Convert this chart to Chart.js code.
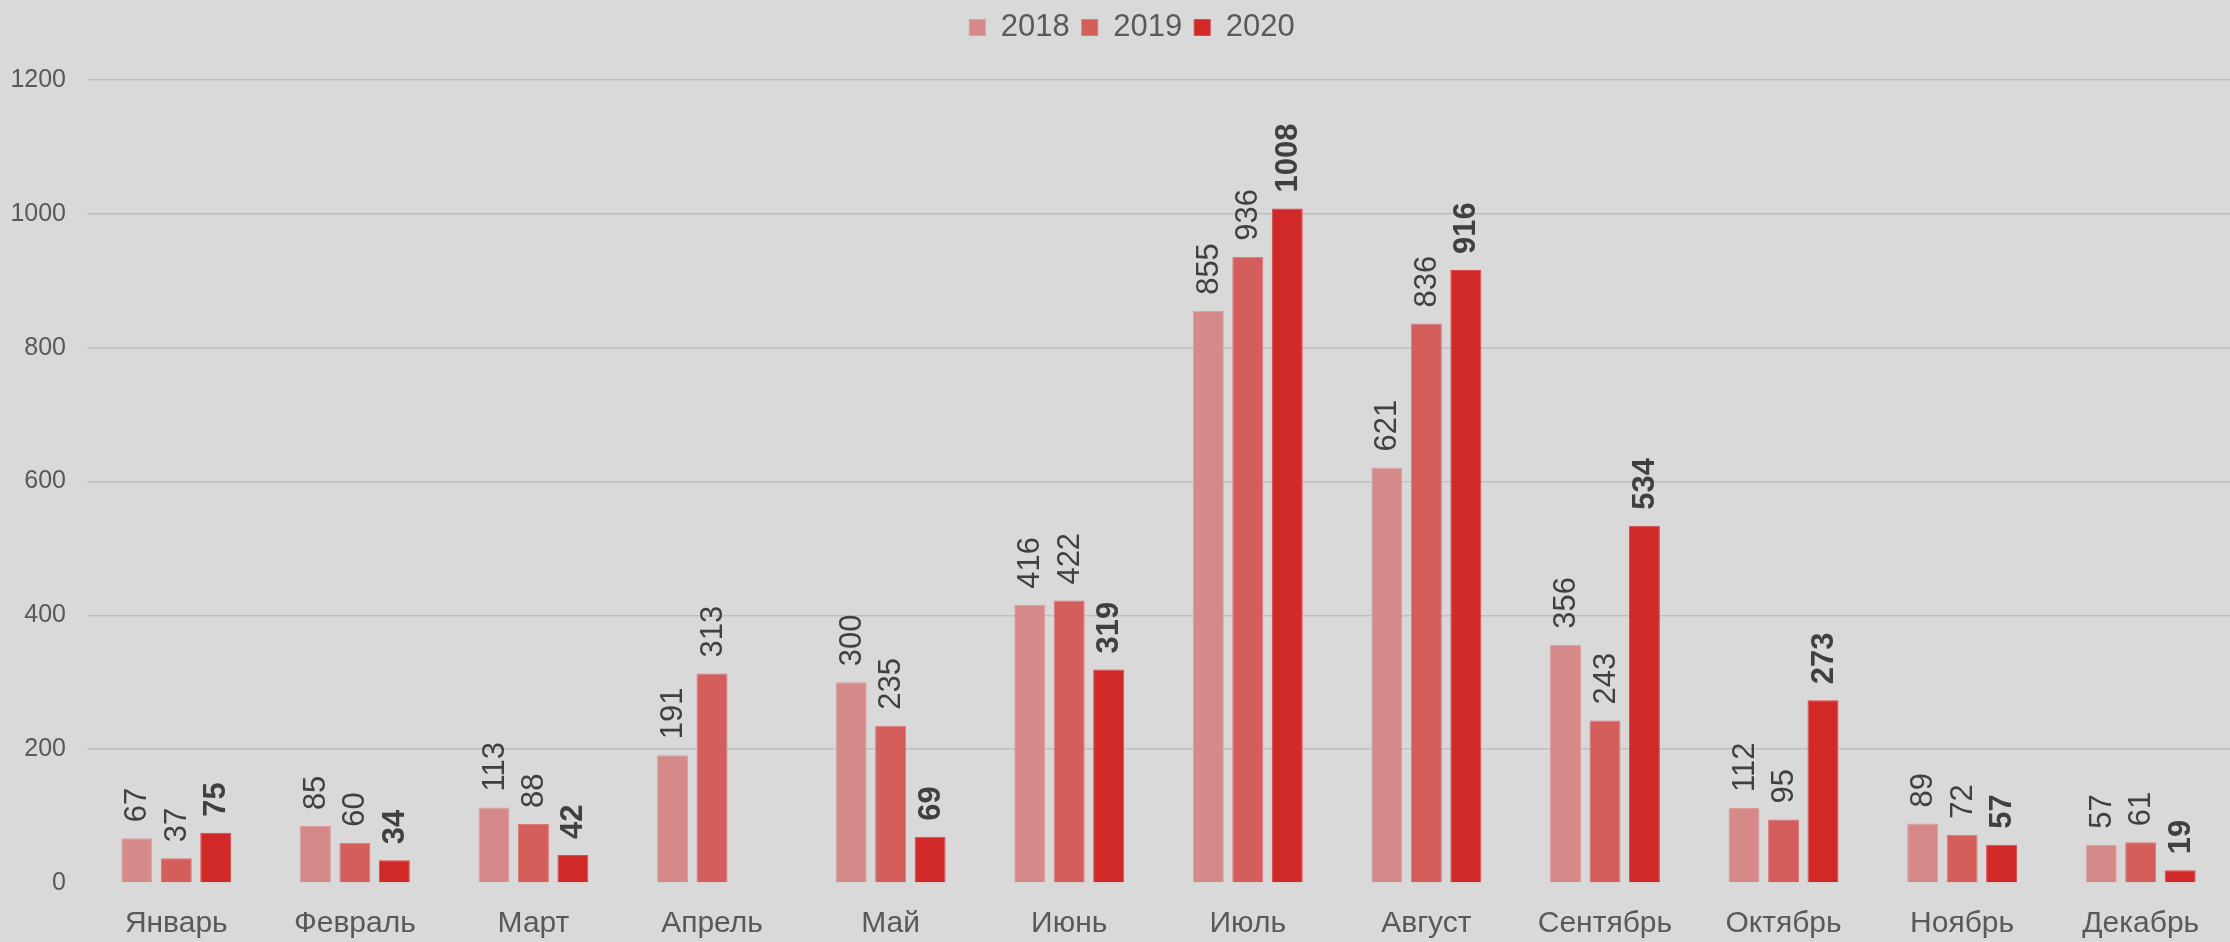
<!DOCTYPE html>
<html>
<head>
<meta charset="utf-8">
<script src="https://cdn.jsdelivr.net/npm/chart.js@4"></script>
<style>
  html, body { margin: 0; padding: 0; background: #d9d9d9; }
  #wrap { width: 2230px; height: 942px; position: relative; }
</style>
</head>
<body>
<div id="wrap"><canvas id="chart"></canvas></div>
<script>
const months = ["Январь", "Февраль", "Март", "Апрель", "Май", "Июнь", "Июль", "Август", "Сентябрь", "Октябрь", "Ноябрь", "Декабрь"];
const years = ["2018", "2019", "2020"];
const values2018 = [67, 85, 113, 191, 300, 416, 855, 621, 356, 112, 89, 57];
const values2019 = [37, 60, 88, 313, 235, 422, 936, 836, 243, 95, 72, 61];
const values2020 = [75, 34, 42, null, 69, 319, 1008, 916, 534, 273, 57, 19];
const yTicks = [0, 200, 400, 600, 800, 1000, 1200];

const fontFamily = "'Liberation Sans', Arial, sans-serif";
const colors = ["#d58a89", "#d35e5c", "#d12828"];
const edges = ["#dc9f9e", "#dc7a78", "#d94a4a"];

// rotated value labels above bars, 2020 in bold
const valueLabels = {
  id: "valueLabels",
  afterDatasetsDraw(chart) {
    const ctx = chart.ctx;
    chart.data.datasets.forEach((ds, di) => {
      const meta = chart.getDatasetMeta(di);
      meta.data.forEach((bar, i) => {
        const v = ds.data[i];
        if (v === null || v === undefined) return;
        ctx.save();
        ctx.translate(bar.x, bar.y - 16);
        ctx.rotate(-Math.PI / 2);
        ctx.font = `${di === 2 ? "bold " : ""}31px ${fontFamily}`;
        ctx.fillStyle = "#404040";
        ctx.textAlign = "left";
        ctx.textBaseline = "middle";
        ctx.fillText(String(v), 0, 1);
        ctx.restore();
      });
    });
  },
};

// keep the legend at the very top but leave room below it
const legendSpace = {
  id: "legendSpace",
  beforeInit(chart) {
    const fit = chart.legend.fit;
    chart.legend.fit = function () {
      fit.call(this);
      this.height += 27;
    };
  },
  afterLayout(chart) {
    chart.legend.left += 34;
  },
};

const datasets = [values2018, values2019, values2020].map((data, i) => ({
  label: years[i],
  data,
  backgroundColor: colors[i],
  borderColor: edges[i],
  borderWidth: 1,
  barPercentage: 0.785,
  categoryPercentage: 0.663,
}));

new Chart(document.getElementById("chart"), {
  type: "bar",
  data: { labels: months, datasets },
  options: {
    responsive: true,
    maintainAspectRatio: false,
    animation: false,
    layout: { padding: 0 },
    plugins: {
      legend: {
        position: "top",
        labels: {
          boxWidth: 16,
          boxHeight: 16,
          padding: 12,
          color: "#595959",
          font: { family: fontFamily, size: 31 },
        },
      },
      tooltip: { enabled: false },
    },
    scales: {
      x: {
        grid: { display: false, drawTicks: false },
        border: { display: false },
        ticks: {
          color: "#595959",
          font: { family: fontFamily, size: 30 },
          padding: 23,
          maxRotation: 0,
          autoSkip: false,
        },
        afterFit(scale) { scale.height = 59; },
      },
      y: {
        min: 0,
        max: 1200,
        afterBuildTicks(scale) { scale.ticks = yTicks.map((value) => ({ value })); },
        grid: {
          drawTicks: false,
          lineWidth: 1.5,
          color: (c) => (c.tick && c.tick.value === 0 ? "rgba(0,0,0,0)" : "#bfbfbf"),
        },
        border: { display: false },
        ticks: {
          color: "#595959",
          font: { family: fontFamily, size: 25 },
          padding: 21,
          callback: (value) => String(value),
        },
        afterFit(scale) { scale.width = 87; },
      },
    },
  },
  plugins: [valueLabels, legendSpace],
});
</script>
</body>
</html>
